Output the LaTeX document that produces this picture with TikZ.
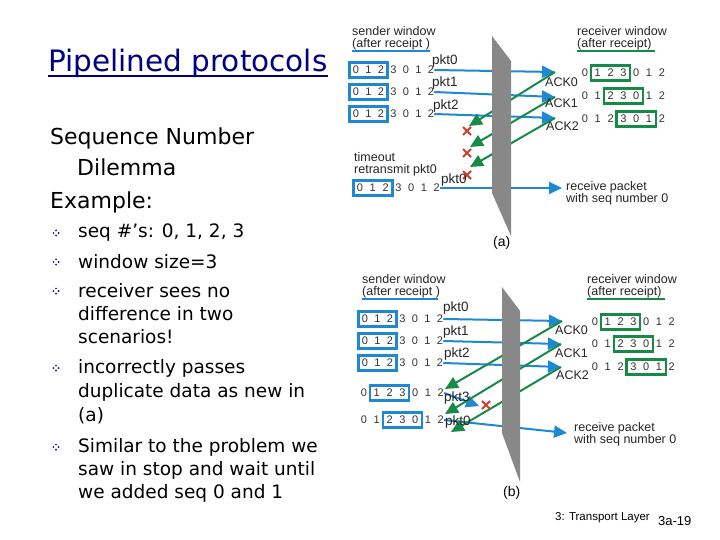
\documentclass[tikz,border=0pt]{standalone}
\usepackage{fontspec}
\setmainfont{Liberation Sans}
\newfontfamily\slidefont{DejaVu Sans}
\usetikzlibrary{arrows.meta,fit,calc}
\definecolor{pblue}{RGB}{30,136,210}
\definecolor{pgreen}{RGB}{24,138,72}
\definecolor{wallgray}{RGB}{136,136,136}
\definecolor{xred}{RGB}{214,60,40}
\definecolor{navy}{RGB}{0,0,128}
\newcommand\seqrow[4]{%
  \foreach \d [count=\i] in {0,1,2,3,0,1,2} {\node[dig] (#1-\i) at ({#2+(\i-1)*#4},#3) {\d};}}
\newcommand\redx[1]{%
  \draw[xred,line width=2pt] ($(#1)+(-4,-4)$) -- ($(#1)+(4,4)$) ($(#1)+(-4,4)$) -- ($(#1)+(4,-4)$);}
\newcommand\slidebullet[1]{%
  \foreach \dx/\dy in {0/-2.6,0/2.6,-2.6/0,2.6/0} {\fill[navy] ($(#1)+(\dx,\dy)$) circle (0.9);}}
\tikzset{
  slidetxt/.style={font=\slidefont\fontsize{22}{24}\selectfont, anchor=west, inner sep=0},
  bultxt/.style={font=\slidefont\fontsize{18.5}{20}\selectfont, anchor=west, inner sep=0},
  lbl/.style={font=\fontsize{12.5}{14}\selectfont, anchor=west, inner sep=0, text=black!85},
  pktlbl/.style={font=\fontsize{13.5}{14}\selectfont, anchor=west, inner sep=0, text=black!85},
  dig/.style={font=\fontsize{11}{12}\selectfont, inner sep=0, text=black!80},
  bluebox/.style={draw=pblue, line width=2.6pt, inner sep=3.5pt},
  greenbox/.style={draw=pgreen, line width=2.3pt, inner sep=3.5pt},
  bluearr/.style={pblue, line width=2pt, -{Triangle[length=13pt,width=12pt]}},
  greenarr/.style={pgreen, line width=2pt, -{Triangle[length=13pt,width=12pt]}},
  wall/.style={fill=wallgray, draw=none},
}
\begin{document}
\begin{tikzpicture}[x=1pt,y=-1pt]
\useasboundingbox (0,0) rectangle (720,540);
\fill[white] (0,0) rectangle (720,540);

% ---------------- title and text ----------------
\node[anchor=west, inner sep=0, font=\slidefont\fontsize{29.5}{32}\selectfont, text=navy] (title) at (48,63) {Pipelined protocols};
\draw[navy, line width=2pt] ([yshift=-5pt]title.base west) -- ([yshift=-5pt]title.base east);

\node[slidetxt] (t1) at (50,138) {Sequence Number};
\node[slidetxt] (t2) at (77,167) {Dilemma};
\node[slidetxt] (t3) at (50,202) {Example:};
\node[bultxt] (b1) at (78,233) {seq \#’s: 0, 1, 2, 3};
\node[bultxt] (b2) at (78,262) {window size=3};
\node[bultxt] (b3) at (78,291) {receiver sees no};
\node[bultxt] (b3b) at (78,314) {difference in two};
\node[bultxt] (b3c) at (78,337) {scenarios!};
\node[bultxt] (b4) at (78,368) {incorrectly passes};
\node[bultxt] (b4b) at (78,392) {duplicate data as new in};
\node[bultxt] (b4c) at (78,416) {(a)};
\node[bultxt] (b5) at (78,447) {Similar to the problem we};
\node[bultxt] (b5b) at (78,470) {saw in stop and wait until};
\node[bultxt] (b5c) at (78,493) {we added seq 0 and 1};
\foreach \y in {233,262,291,368,447} {\coordinate (bul) at (56,\y); \slidebullet{bul}}

\node[anchor=west, inner sep=0, font=\fontsize{11.5}{12}\selectfont] (foot) at (555,518) {3: Transport Layer};
\node[anchor=west, inner sep=0, font=\fontsize{13}{14}\selectfont] (pg) at (658,521) {3a-19};

% ================= (a) =================
\seqrow{as1}{356}{70}{12.5}
\seqrow{as2}{356}{92}{12.5}
\seqrow{as3}{356}{114}{12.5}
\seqrow{as4}{360}{188}{12.8}
\seqrow{ar1}{585}{73}{12.8}
\seqrow{ar2}{585}{96}{12.8}
\seqrow{ar3}{585}{119}{12.8}

\coordinate (aT0) at (555,72);
\coordinate (aT1) at (555,97);
\coordinate (aT2) at (555,118);
\coordinate (aT3) at (562,188);
\coordinate (aG0) at (469,126);
\coordinate (aG1) at (470,147);
\coordinate (aG2) at (470,167);
\coordinate (aX0) at (467,131);
\coordinate (aX1) at (467,153);
\coordinate (aX2) at (467,175);

\draw[bluearr] (as1-7.east) -- (aT0);
\draw[bluearr] (as2-7.east) -- (aT1);
\draw[bluearr] (as3-7.east) -- (aT2);
\draw[bluearr] (as4-7.east) -- (aT3);
\draw[greenarr] (aT0) -- (aG0);
\draw[greenarr] (aT1) -- (aG1);
\draw[greenarr] (aT2) -- (aG2);
\redx{aX0}\redx{aX1}\redx{aX2}

\fill[wall] (492,36) -- (511,61) -- (511,236) -- (492,193) -- cycle;

\node[bluebox, fit=(as1-1)(as1-3)] (as1b) {};
\node[bluebox, fit=(as2-1)(as2-3)] (as2b) {};
\node[bluebox, fit=(as3-1)(as3-3)] (as3b) {};
\node[bluebox, fit=(as4-1)(as4-3)] (as4b) {};
\node[greenbox, fit=(ar1-2)(ar1-4)] (ar1b) {};
\node[greenbox, fit=(ar2-3)(ar2-5)] (ar2b) {};
\node[greenbox, fit=(ar3-4)(ar3-6)] (ar3b) {};

\node[lbl] (asw) at (352,31) {sender window};
\node[lbl] (asa) at (352,44) {(after receipt )};
\draw[pblue, line width=1.6pt] (352,51) -- (430,51);
\node[lbl] (arw) at (577,31) {receiver window};
\node[lbl] (ara) at (577,44) {(after receipt)};
\draw[pgreen, line width=1.6pt] (577,51) -- (655,51);

\node[pktlbl] (ap0) at (432,61) {pkt0};
\node[pktlbl] (ap1) at (432,83) {pkt1};
\node[pktlbl] (ap2) at (433,106) {pkt2};
\node[lbl] (aack0) at (545,82) {ACK0};
\node[lbl] (aack1) at (545,103) {ACK1};
\node[lbl] (aack2) at (546,126) {ACK2};
\node[lbl] (ato) at (354,157) {timeout};
\node[lbl] (art) at (354,170.5) {retransmit pkt0};
\node[pktlbl] (ap0b) at (441,180.5) {pkt0};
\node[lbl] (arp1) at (566,187) {receive packet};
\node[lbl] (arp2) at (566,199) {with seq number 0};
\node[anchor=west, inner sep=0, font=\fontsize{14}{15}\selectfont] (acap) at (493,243) {(a)};

% ================= (b) =================
\seqrow{bs1}{365}{319}{12.5}
\seqrow{bs2}{365}{341}{12.5}
\seqrow{bs3}{365}{363}{12.5}
\seqrow{bs4}{364}{393}{12.8}
\seqrow{bs5}{364}{420}{12.8}
\seqrow{br1}{595}{322}{12.8}
\seqrow{br2}{595}{344}{12.8}
\seqrow{br3}{595}{367}{12.8}

\coordinate (bT0) at (562,321);
\coordinate (bT1) at (561,344);
\coordinate (bT2) at (561,367);
\coordinate (bT3) at (479,406);
\coordinate (bT4) at (567,433);
\coordinate (bG0) at (445,389);
\coordinate (bG1) at (445,414);
\coordinate (bG2) at (451,432);
\coordinate (bX) at (486,405);

\draw[bluearr] (bs1-7.east) -- (bT0);
\draw[bluearr] (bs2-7.east) -- (bT1);
\draw[bluearr] (bs3-7.east) -- (bT2);
\draw[bluearr] (bs4-7.east) -- (bT3);
\draw[bluearr] (bs5-7.east) -- (bT4);
\draw[greenarr] (bT0) -- (bG0);
\draw[greenarr] (bT1) -- (bG1);
\draw[greenarr] (bT2) -- (bG2);
\redx{bX}

\fill[wall] (502,287) -- (520,311) -- (520,482) -- (502,433) -- cycle;

\node[bluebox, fit=(bs1-1)(bs1-3)] (bs1b) {};
\node[bluebox, fit=(bs2-1)(bs2-3)] (bs2b) {};
\node[bluebox, fit=(bs3-1)(bs3-3)] (bs3b) {};
\node[bluebox, fit=(bs4-2)(bs4-4)] (bs4b) {};
\node[bluebox, fit=(bs5-3)(bs5-5)] (bs5b) {};
\node[greenbox, fit=(br1-2)(br1-4)] (br1b) {};
\node[greenbox, fit=(br2-3)(br2-5)] (br2b) {};
\node[greenbox, fit=(br3-4)(br3-6)] (br3b) {};

\node[lbl] (bsw) at (362,279) {sender window};
\node[lbl] (bsa) at (362,292) {(after receipt )};
\draw[pblue, line width=1.6pt] (362,299) -- (438,299);
\node[lbl] (brw) at (587,279) {receiver window};
\node[lbl] (bra) at (587,292) {(after receipt)};
\draw[pgreen, line width=1.6pt] (587,299) -- (665,299);

\node[pktlbl] (bp0) at (443,308) {pkt0};
\node[pktlbl] (bp1) at (443,332) {pkt1};
\node[pktlbl] (bp2) at (444,354) {pkt2};
\node[pktlbl] (bp3) at (444,398) {pkt3};
\node[pktlbl] (bp0b) at (445,422) {pkt0};
\node[lbl] (back0) at (555,330) {ACK0};
\node[lbl] (back1) at (555,353) {ACK1};
\node[lbl] (back2) at (556,375) {ACK2};
\node[lbl] (brp1) at (574,428) {receive packet};
\node[lbl] (brp2) at (574,440) {with seq number 0};
\node[anchor=west, inner sep=0, font=\fontsize{14}{15}\selectfont] (bcap) at (503,493) {(b)};
\end{tikzpicture}
\end{document}
